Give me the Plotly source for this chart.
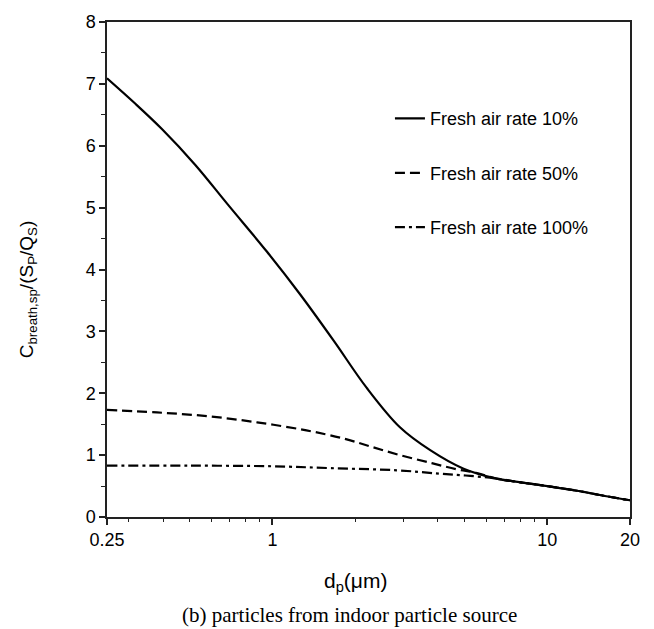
import math
import plotly.graph_objects as go

# Particle diameter (um) and normalised breathing-zone concentration
d_10 = [0.25, 0.315, 0.396, 0.524, 0.691, 0.954, 1.26, 1.67, 2.2, 2.91,
        3.75, 4.96, 6.54, 8.0, 10, 13, 16.2, 20]
c_10 = [7.09, 6.69, 6.27, 5.69, 5.04, 4.29, 3.60, 2.85, 2.09, 1.45,
        1.08, 0.78, 0.62, 0.56, 0.50, 0.42, 0.34, 0.27]

d_50 = [0.25, 0.38, 0.578, 0.879, 1.33, 1.81, 2.27, 2.91, 3.8, 4.69, 5.5,
        6.54, 8.0, 10, 13, 16.2, 20]
c_50 = [1.73, 1.69, 1.63, 1.53, 1.40, 1.27, 1.14, 1.00, 0.87, 0.77, 0.715,
        0.62, 0.56, 0.50, 0.42, 0.34, 0.27]

d_100 = [0.25, 0.5, 1.0, 1.62, 2.83, 4.07, 5.24, 6.54, 8.0, 10, 13, 16.2, 20]
c_100 = [0.83, 0.83, 0.82, 0.79, 0.755, 0.70, 0.665, 0.62, 0.56, 0.50,
         0.42, 0.34, 0.27]

series_names = ["Fresh air rate 10%", "Fresh air rate 50%", "Fresh air rate 100%"]
x_tick_vals = [0.25, 1, 10, 20]
x_tick_text = ["0.25", "1", "10", "20"]
x_minor_vals = [0.3, 0.4, 0.5, 0.6, 0.7, 0.8, 0.9, 2, 3, 4, 5, 6, 7, 8, 9, 20]

SANS = "Liberation Sans, Arial, sans-serif"
SERIF = "Liberation Serif, Times New Roman, serif"

fig = go.Figure()
styles = [("solid", d_10, c_10),
          ("10px,5px", d_50, c_50),
          ("10px,4px,3px,4px", d_100, c_100)]
for i, (dash, xs, ys) in enumerate(styles):
    fig.add_trace(go.Scatter(
        x=xs, y=ys, mode="lines", name=series_names[i],
        legendgroup=f"g{i}",
        line=dict(color="black", width=2.2, dash=dash, shape="spline", smoothing=1.0),
    ))

axis_common = dict(
    showline=True, linecolor="#222", linewidth=1.5, mirror=True,
    ticks="outside", tickcolor="#222", tickwidth=1.5, ticklen=6,
    showgrid=False, zeroline=False,
    tickfont=dict(family=SANS, size=18, color="black"),
)

fig.update_xaxes(
    type="log", range=[math.log10(0.25), math.log10(20)],
    tickmode="array", tickvals=x_tick_vals, ticktext=x_tick_text,
    minor=dict(tickmode="array", tickvals=x_minor_vals, ticks="outside",
               ticklen=3.5, tickcolor="#222", tickwidth=1.2),
    **axis_common,
)
fig.update_yaxes(
    range=[0, 8], dtick=1, tick0=0,
    minor=dict(dtick=0.5, ticks="outside", ticklen=4, tickcolor="#222", tickwidth=1.2),
    **axis_common,
)

fig.add_annotation(
    text="C<sub>breath,sp</sub>/(S<sub>P</sub>/Q<sub>S</sub>)",
    xref="paper", yref="paper", x=-0.151, y=0.46,
    xanchor="center", yanchor="middle", textangle=-90, showarrow=False,
    font=dict(family=SANS, size=19, color="black"),
)
fig.add_annotation(
    text="d<sub>p</sub>(\u03bcm)",
    xref="paper", yref="paper", x=0.475, y=-0.132,
    xanchor="center", yanchor="middle", showarrow=False,
    font=dict(family=SANS, size=21, color="black"),
)
fig.add_annotation(
    text="(b) particles from indoor particle source",
    xref="paper", yref="paper", x=0.463, y=-0.198,
    xanchor="center", yanchor="middle", showarrow=False,
    font=dict(family=SERIF, size=21, color="black"),
)

fig.update_layout(
    width=654, height=629,
    margin=dict(l=107, r=24, t=19, b=112),
    paper_bgcolor="white", plot_bgcolor="white",
    showlegend=True,
    legend=dict(
        x=0.541, y=0.842, xanchor="left", yanchor="top",
        bgcolor="rgba(0,0,0,0)", borderwidth=0,
        font=dict(family=SANS, size=18, color="black"),
        tracegroupgap=28,
    ),
)

fig.write_html("out.html")
